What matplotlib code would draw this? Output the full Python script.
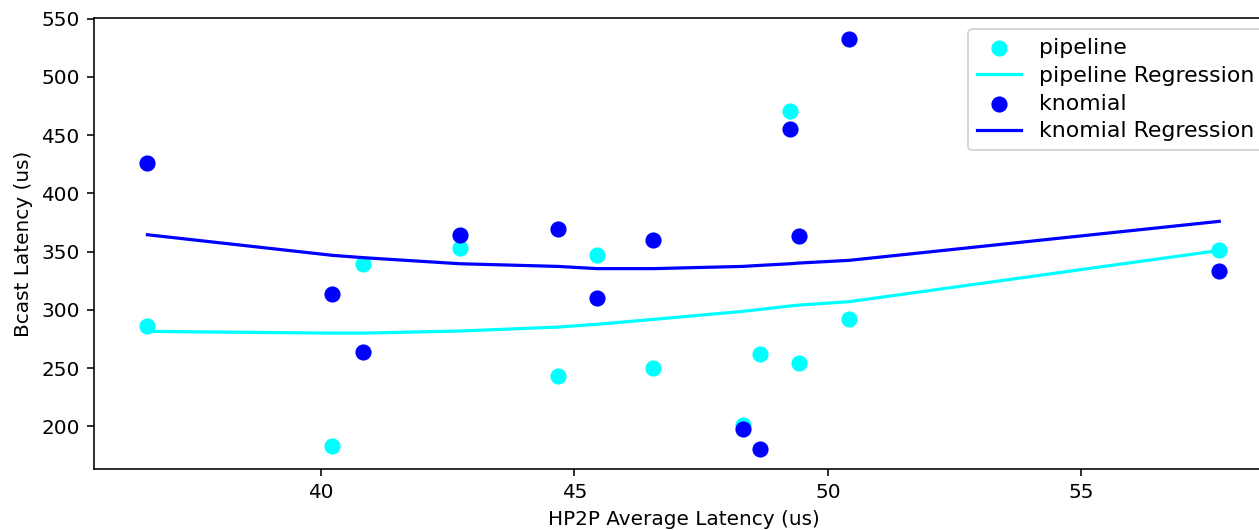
import matplotlib
matplotlib.use("Agg")
import matplotlib.pyplot as plt

# HP2P average latency (us) per run
hp2p = [36.58, 40.23, 40.84, 42.74, 44.68, 45.45, 46.56, 48.32, 48.67, 49.26, 49.43, 50.42, 57.72]
# Bcast latency (us)
pipeline = [285.8, 183.4, 339.0, 353.5, 242.9, 347.5, 249.7, 200.9, 261.7, 471.2, 254.0, 291.8, 351.0]
knomial = [426.4, 314.0, 263.5, 364.7, 369.8, 309.8, 360.4, 197.7, 180.5, 455.5, 363.8, 532.8, 333.0]
# Regression curves evaluated at the same x
pipeline_reg = [281.5, 280.0, 280.0, 281.8, 285.2, 287.6, 291.8, 298.7, 300.4, 303.3, 304.1, 307.0, 351.0]
knomial_reg = [364.5, 346.8, 344.8, 339.6, 337.3, 335.4, 335.4, 337.3, 338.2, 339.6, 340.2, 342.5, 376.0]

dpi = 144
fig = plt.figure(figsize=(1259 / dpi, 530 / dpi), dpi=dpi)
ax = fig.add_axes([93.7 / 1259, (530 - 469) / 530, (1274 - 93.7) / 1259, (469 - 18.3) / 530])

ax.scatter(hp2p, pipeline, color="#00FFFF", s=50, label="pipeline")
ax.plot(hp2p, pipeline_reg, color="#00FFFF", lw=1.6, label="pipeline Regression")
ax.scatter(hp2p, knomial, color="#0000FF", s=50, label="knomial")
ax.plot(hp2p, knomial_reg, color="#0000FF", lw=1.6, label="knomial Regression")

ax.set_xlim(35.52, 58.8)
ax.set_ylim(163.3, 550.4)
ax.set_xlabel("HP2P Average Latency (us)")
ax.set_ylabel("Bcast Latency (us)")
ax.legend(loc="upper right", fontsize=11, labelspacing=0.35)

fig.savefig("out.png", dpi=dpi)
